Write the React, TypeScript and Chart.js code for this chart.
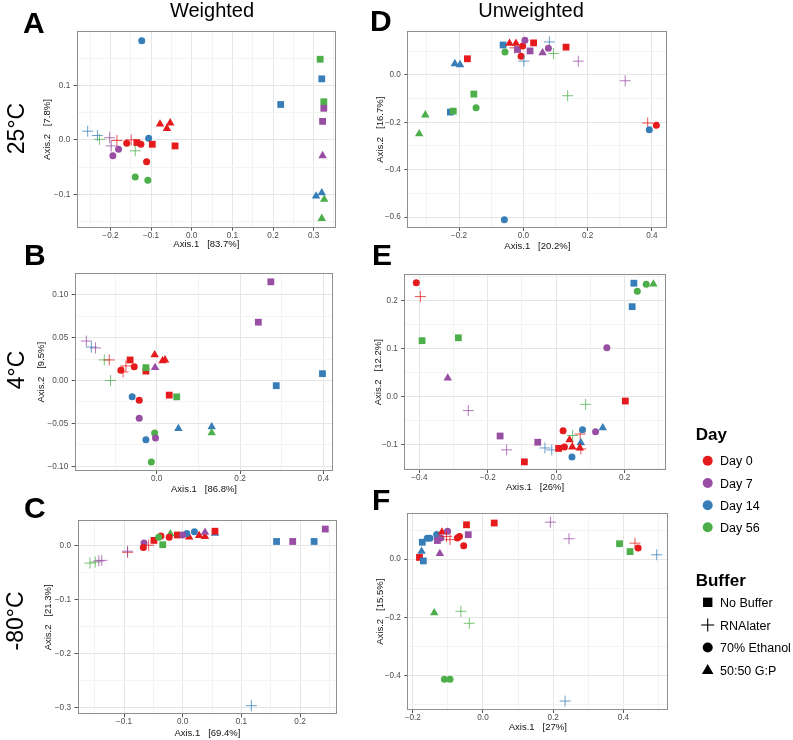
import React, { useEffect, useRef } from "react";
import { Chart, registerables } from "chart.js";

Chart.register(...registerables);

const FONT = '"Liberation Sans", Arial, Helvetica, sans-serif';

// ---------- legend / categories ----------
const dayLabels = ["Day 0", "Day 7", "Day 14", "Day 56"];
const dayColors = ["#E41A1C", "#984EA3", "#377EB8", "#4DAF4A"];
const crossColors = ["rgba(228,26,28,0.75)", "rgba(152,78,163,0.75)", "rgba(55,126,184,0.75)", "rgba(77,175,74,0.75)"];
const bufferLabels = ["No Buffer", "RNAlater", "70% Ethanol", "50:50 G:P"];
const bufferStyles = ["rect", "cross", "circle", "triangle"];
const bufferRadius = [4.8, 5.5, 3.5, 4.9];

const panelLetters = ["A", "B", "C", "D", "E", "F"];
const axis1Pct = ["83.7", "86.8", "69.4", "20.2", "26", "27"];
const axis2Pct = ["7.8", "9.5", "21.3", "16.7", "12.2", "15.5"];

// ---------- points: [Axis.1, Axis.2, day index, buffer index] ----------
type Pt = [number, number, number, number];

const panelA: Pt[] = [
  [-0.123, 0.182, 2, 2], [0.316, 0.148, 3, 0], [0.320, 0.112, 2, 0], [0.219, 0.065, 2, 0],
  [0.325, 0.070, 3, 0], [0.325, 0.058, 1, 0], [0.322, 0.034, 1, 0], [0.322, -0.029, 1, 3],
  [0.306, -0.103, 2, 3], [0.320, -0.097, 2, 3], [0.326, -0.109, 3, 3], [0.320, -0.144, 3, 3],
  [-0.078, 0.029, 0, 3], [-0.061, 0.021, 0, 3], [-0.053, 0.031, 0, 3], [-0.106, 0.003, 2, 2],
  [-0.135, -0.005, 0, 0], [-0.097, -0.008, 0, 0], [-0.041, -0.011, 0, 0], [-0.160, -0.006, 0, 2],
  [-0.125, -0.008, 0, 2], [-0.111, -0.040, 0, 2], [-0.139, -0.068, 3, 2], [-0.108, -0.074, 3, 2],
  [-0.194, -0.029, 1, 2], [-0.180, -0.017, 1, 2],
  [-0.256, 0.016, 2, 1], [-0.232, 0.008, 2, 1], [-0.227, 0.001, 3, 1], [-0.202, 0.004, 1, 1],
  [-0.198, -0.011, 1, 1], [-0.184, -0.001, 0, 1], [-0.149, 0.000, 0, 1], [-0.139, -0.020, 3, 1],
];

const panelB: Pt[] = [
  [0.274, 0.115, 1, 0], [0.244, 0.068, 1, 0], [0.398, 0.008, 2, 0], [0.287, -0.006, 2, 0],
  [-0.169, 0.046, 1, 1], [-0.157, 0.039, 2, 1], [-0.147, 0.038, 1, 1], [-0.126, 0.024, 3, 1],
  [-0.114, 0.024, 0, 1], [-0.074, 0.017, 0, 1], [-0.081, 0.010, 0, 1], [-0.111, 0.000, 3, 1],
  [-0.086, 0.012, 0, 2], [-0.054, 0.016, 0, 2], [-0.064, 0.024, 0, 0], [-0.026, 0.011, 0, 0],
  [0.030, -0.017, 0, 0], [-0.026, 0.015, 3, 0], [0.048, -0.019, 3, 0], [-0.005, 0.030, 0, 3],
  [0.014, 0.023, 0, 3], [0.020, 0.024, 0, 3], [-0.004, 0.015, 1, 3], [-0.059, -0.019, 2, 2],
  [-0.042, -0.023, 0, 2], [-0.042, -0.044, 1, 2], [-0.026, -0.069, 2, 2], [-0.005, -0.061, 3, 2],
  [-0.003, -0.067, 1, 2], [-0.013, -0.095, 3, 2], [0.052, -0.056, 2, 3], [0.132, -0.054, 2, 3],
  [0.132, -0.061, 3, 3],
];

const panelC: Pt[] = [
  [0.243, 0.031, 1, 0], [0.160, 0.008, 2, 0], [0.224, 0.008, 2, 0], [0.1875, 0.008, 1, 0],
  [0.117, -0.296, 2, 1], [0.055, 0.023, 2, 3], [0.055, 0.027, 0, 0], [0.038, 0.017, 0, 3],
  [0.028, 0.019, 0, 3], [0.011, 0.016, 0, 3], [0.038, 0.025, 1, 3], [0.020, 0.026, 2, 2],
  [0.007, 0.023, 2, 2], [-0.009, 0.020, 0, 0], [-0.049, 0.010, 0, 0], [0.000, 0.020, 1, 2],
  [-0.021, 0.022, 3, 3], [-0.023, 0.016, 0, 2], [-0.037, 0.018, 0, 2], [-0.041, 0.016, 3, 2],
  [-0.034, 0.002, 3, 0], [-0.066, 0.005, 1, 2], [-0.067, -0.003, 0, 2], [-0.058, 0.001, 0, 1],
  [-0.094, -0.012, 0, 1], [-0.094, -0.010, 1, 1], [-0.158, -0.032, 3, 1], [-0.149, -0.030, 3, 1],
  [-0.143, -0.028, 1, 1], [-0.138, -0.027, 1, 1],
];

const panelD: Pt[] = [
  [-0.063, 0.126, 2, 0], [-0.043, 0.133, 0, 3], [-0.023, 0.133, 0, 3], [-0.027, 0.114, 0, 1],
  [-0.018, 0.107, 1, 0], [-0.002, 0.122, 0, 2], [0.005, 0.146, 1, 2], [0.032, 0.135, 0, 0],
  [-0.007, 0.079, 0, 2], [0.021, 0.101, 1, 0], [0.002, 0.058, 2, 1], [0.081, 0.139, 2, 1],
  [0.078, 0.112, 1, 2], [0.060, 0.093, 1, 3], [0.094, 0.090, 3, 1], [0.133, 0.117, 0, 0],
  [-0.057, 0.097, 3, 2], [0.171, 0.058, 1, 1], [-0.174, 0.068, 0, 0], [-0.213, 0.047, 2, 3],
  [-0.197, 0.043, 2, 3], [-0.154, -0.081, 3, 0], [-0.147, -0.139, 3, 2], [-0.227, -0.157, 2, 0],
  [-0.218, -0.153, 3, 0], [-0.305, -0.169, 3, 3], [-0.324, -0.249, 3, 3], [0.138, -0.088, 3, 1],
  [0.317, -0.025, 1, 1], [0.387, -0.203, 0, 1], [0.392, -0.232, 2, 2], [0.414, -0.213, 0, 2],
  [-0.059, -0.611, 2, 2],
];

const panelE: Pt[] = [
  [-0.409, 0.238, 0, 2], [-0.397, 0.209, 0, 1], [-0.392, 0.117, 3, 0], [-0.286, 0.123, 3, 0],
  [-0.317, 0.039, 1, 3], [-0.257, -0.029, 1, 1], [-0.164, -0.082, 1, 0], [-0.145, -0.111, 1, 1],
  [-0.054, -0.095, 1, 0], [-0.093, -0.136, 0, 0], [-0.033, -0.107, 2, 1], [-0.013, -0.111, 2, 1],
  [0.007, -0.108, 0, 0], [0.020, -0.071, 0, 2], [0.024, -0.105, 0, 2], [0.039, -0.090, 0, 3],
  [0.048, -0.081, 3, 1], [0.047, -0.105, 0, 3], [0.046, -0.126, 2, 2], [0.070, -0.078, 0, 1],
  [0.077, -0.069, 2, 2], [0.072, -0.096, 2, 3], [0.069, -0.107, 0, 3], [0.072, -0.109, 0, 1],
  [0.086, -0.016, 3, 1], [0.115, -0.073, 1, 2], [0.136, -0.065, 2, 3], [0.148, 0.102, 1, 2],
  [0.202, -0.009, 0, 0], [0.227, 0.237, 2, 0], [0.263, 0.235, 3, 2], [0.284, 0.235, 3, 3],
  [0.237, 0.220, 3, 2], [0.222, 0.188, 2, 0],
];

const panelF: Pt[] = [
  [-0.181, 0.006, 0, 0], [-0.170, -0.006, 2, 0], [-0.175, 0.027, 2, 3], [-0.173, 0.058, 2, 0],
  [-0.159, 0.072, 2, 2], [-0.151, 0.072, 2, 2], [-0.132, 0.085, 2, 2], [-0.130, 0.064, 1, 0],
  [-0.120, 0.073, 1, 2], [-0.117, 0.093, 0, 3], [-0.101, 0.096, 1, 2], [-0.123, 0.019, 1, 3],
  [-0.104, 0.078, 0, 1], [-0.094, 0.067, 0, 1], [-0.073, 0.073, 0, 2], [-0.067, 0.078, 0, 2],
  [-0.055, 0.046, 0, 2], [-0.047, 0.118, 0, 0], [-0.042, 0.084, 1, 0], [0.032, 0.124, 0, 0],
  [0.192, 0.127, 1, 1], [0.245, 0.070, 1, 1], [0.389, 0.053, 3, 0], [0.419, 0.026, 3, 0],
  [0.433, 0.055, 0, 1], [0.442, 0.038, 0, 2], [0.495, 0.015, 2, 1], [-0.139, -0.184, 3, 3],
  [-0.063, -0.179, 3, 1], [-0.039, -0.220, 3, 1], [-0.110, -0.412, 3, 2], [-0.094, -0.412, 3, 2],
  [0.234, -0.487, 2, 1],
];

// ---------- tick positions (all grid lines) and labelled (major) ticks ----------
const aXTicks = [-0.25, -0.2, -0.15, -0.1, -0.05, 0, 0.05, 0.1, 0.15, 0.2, 0.25, 0.3, 0.35];
const aXLabels = [-0.2, -0.1, 0, 0.1, 0.2, 0.3];
const aYTicks = [-0.15, -0.1, -0.05, 0, 0.05, 0.1, 0.15];
const aYLabels = [-0.1, 0, 0.1];

const bXTicks = [-0.1, 0, 0.1, 0.2, 0.3, 0.4];
const bXLabels = [0, 0.2, 0.4];
const bYTicks = [-0.1, -0.075, -0.05, -0.025, 0, 0.025, 0.05, 0.075, 0.1];
const bYLabels = [-0.1, -0.05, 0, 0.05, 0.1];

const cXTicks = [-0.15, -0.1, -0.05, 0, 0.05, 0.1, 0.15, 0.2, 0.25];
const cXLabels = [-0.1, 0, 0.1, 0.2];
const cYTicks = [-0.3, -0.25, -0.2, -0.15, -0.1, -0.05, 0];
const cYLabels = [-0.3, -0.2, -0.1, 0];

const dXTicks = [-0.3, -0.2, -0.1, 0, 0.1, 0.2, 0.3, 0.4];
const dXLabels = [-0.2, 0, 0.2, 0.4];
const dYTicks = [-0.6, -0.5, -0.4, -0.3, -0.2, -0.1, 0, 0.1];
const dYLabels = [-0.6, -0.4, -0.2, 0];

const eXTicks = [-0.4, -0.3, -0.2, -0.1, 0, 0.1, 0.2, 0.3];
const eXLabels = [-0.4, -0.2, 0, 0.2];
const eYTicks = [-0.15, -0.1, -0.05, 0, 0.05, 0.1, 0.15, 0.2, 0.25];
const eYLabels = [-0.1, 0, 0.1, 0.2];

const fXTicks = [-0.2, -0.1, 0, 0.1, 0.2, 0.3, 0.4, 0.5];
const fXLabels = [-0.2, 0, 0.2, 0.4];
const fYTicks = [-0.5, -0.4, -0.3, -0.2, -0.1, 0, 0.1];
const fYLabels = [-0.4, -0.2, 0];

// ---------- axis ranges [xMin, xMax, yMin, yMax] ----------
const aRange = [-0.283, 0.355, -0.161, 0.199];
const bRange = [-0.197, 0.424, -0.1054, 0.1248];
const cRange = [-0.1793, 0.2635, -0.312, 0.047];
const dRange = [-0.361, 0.448, -0.646, 0.1833];
const eRange = [-0.444, 0.320, -0.153, 0.2553];
const fRange = [-0.2157, 0.528, -0.5176, 0.157];

interface PanelCfg {
  letter: string;
  data: Pt[];
  range: number[];
  xTicks: number[];
  xLabels: number[];
  yTicks: number[];
  yLabels: number[];
  xDec: number;
  yDec: number;
  xTitle: string;
  yTitle: string;
  // layout (page px): plot area and axis title centres
  L: number; T: number; R: number; B: number; yTitleX: number; xTitleY: number;
}

const mk = (i: number, data: Pt[], range: number[], xT: number[], xL: number[], yT: number[], yL: number[],
  xDec: number, yDec: number, L: number, T: number, R: number, B: number, yTitleX: number, xTitleY: number): PanelCfg => ({
  letter: panelLetters[i], data, range, xTicks: xT, xLabels: xL, yTicks: yT, yLabels: yL, xDec, yDec,
  xTitle: "Axis.1   [" + axis1Pct[i] + "%]", yTitle: "Axis.2   [" + axis2Pct[i] + "%]",
  L, T, R, B, yTitleX, xTitleY,
});

const PANELS: PanelCfg[] = [
  mk(0, panelA, aRange, aXTicks, aXLabels, aYTicks, aYLabels, 1, 1, 76.7, 29.3, 336, 227.7, 48, 244),
  mk(1, panelB, bRange, bXTicks, bXLabels, bYTicks, bYLabels, 1, 2, 74.7, 270.7, 333.3, 471, 41.5, 489),
  mk(2, panelC, cRange, cXTicks, cXLabels, cYTicks, cYLabels, 1, 1, 77.5, 518, 337.3, 714.3, 48.3, 733),
  mk(3, panelD, dRange, dXTicks, dXLabels, dYTicks, dYLabels, 1, 1, 407.3, 29, 667.3, 228, 380.7, 246),
  mk(4, panelE, eRange, eXTicks, eXLabels, eYTicks, eYLabels, 1, 1, 404.3, 271.7, 665.7, 470, 379, 487),
  mk(5, panelF, fRange, fXTicks, fXLabels, fYTicks, fYLabels, 1, 1, 407.3, 511, 668.3, 710, 381, 727),
];

const has = (arr: number[], v: number) => arr.some((a) => Math.abs(a - v) < 1e-9);
const fmt = (v: number, d: number) => (Math.abs(v) < 1e-9 ? 0 : v).toFixed(d).replace("-", "\u2212");

const TITLE_SIZE = 9.5;
const TICK_SIZE = 8.2;

function Panel({ cfg }: { cfg: PanelCfg }) {
  const ref = useRef<HTMLCanvasElement>(null);
  const half = (TITLE_SIZE * 1.2) / 2;
  const cl = Math.round(cfg.yTitleX - half);
  const ct = Math.round(cfg.T - 6);
  const cb = Math.round(cfg.xTitleY + half);
  const cr = Math.round(cfg.R + 12);
  const cw = cr - cl;
  const ch = cb - ct;

  useEffect(() => {
    const canvas = ref.current;
    if (!canvas) return;
    const yW = cfg.L - cl;
    const xH = cb - cfg.B;

    const frame = {
      id: "frame" + cfg.letter,
      afterDatasetsDraw(chart: any) {
        const { ctx, chartArea: a } = chart;
        const l = Math.round(a.left), t = Math.round(a.top), r = Math.round(a.right), b = Math.round(a.bottom);
        ctx.save();
        ctx.strokeStyle = "#8F8F8F";
        ctx.lineWidth = 1;
        ctx.strokeRect(l + 0.5, t + 0.5, r - l - 1, b - t - 1);
        ctx.restore();
      },
    };

    const axis = (isX: boolean) => {
      const ticksArr = isX ? cfg.xTicks : cfg.yTicks;
      const labs = isX ? cfg.xLabels : cfg.yLabels;
      const dec = isX ? cfg.xDec : cfg.yDec;
      return {
        type: "linear",
        position: isX ? "bottom" : "left",
        bounds: "data",
        min: isX ? cfg.range[0] : cfg.range[2],
        max: isX ? cfg.range[1] : cfg.range[3],
        afterBuildTicks: (s: any) => {
          s.ticks = ticksArr.map((v) => ({ value: v }));
        },
        afterFit: (s: any) => {
          if (isX) s.height = xH;
          else s.width = yW;
        },
        ticks: {
          autoSkip: false,
          maxRotation: 0,
          minRotation: 0,
          includeBounds: false,
          padding: isX ? 0 : 3.5,
          color: "#4D4D4D",
          font: { size: TICK_SIZE, family: FONT },
          callback: (v: any) => (has(labs, Number(v)) ? fmt(Number(v), dec) : ""),
        },
        grid: {
          color: (c: any) => (c.tick && has(labs, c.tick.value) ? "#E6E6E6" : "#F3F3F3"),
          lineWidth: 1,
          drawTicks: true,
          tickLength: 3,
          tickWidth: 1,
          tickColor: (c: any) => (c.tick && has(labs, c.tick.value) ? "#555555" : "rgba(0,0,0,0)"),
        },
        border: { display: false },
        title: {
          display: true,
          text: isX ? cfg.xTitle : cfg.yTitle,
          color: "#111111",
          font: { size: TITLE_SIZE, family: FONT },
          padding: 0,
        },
      };
    };

    const d = cfg.data;
    const chart = new Chart(canvas, {
      type: "scatter",
      data: {
        datasets: [
          {
            data: d.map((p) => ({ x: p[0], y: p[1] })),
            pointStyle: d.map((p) => bufferStyles[p[3]]),
            pointRadius: d.map((p) => bufferRadius[p[3]]),
            pointHoverRadius: d.map((p) => bufferRadius[p[3]]),
            pointBackgroundColor: d.map((p) => dayColors[p[2]]),
            pointBorderColor: d.map((p) => (p[3] === 1 ? crossColors[p[2]] : dayColors[p[2]])),
            pointBorderWidth: d.map((p) => (p[3] === 1 ? 1 : 0)),
            clip: false,
          } as any,
        ],
      },
      options: {
        responsive: false,
        animation: false,
        devicePixelRatio: 1,
        events: [],
        layout: {
          padding: { top: cfg.T - ct, right: cr - cfg.R, left: 0, bottom: 0 },
          autoPadding: false,
        } as any,
        plugins: { legend: { display: false }, tooltip: { enabled: false } },
        scales: { x: axis(true) as any, y: axis(false) as any },
      },
      plugins: [frame],
    });
    return () => chart.destroy();
  }, []);

  return (
    <canvas
      ref={ref}
      width={cw}
      height={ch}
      style={{ position: "absolute", left: cl, top: ct, width: cw, height: ch }}
    />
  );
}

// ---------- page annotation positions ----------
const letterPos = [
  [23, 32.7], [24, 265], [24, 517.7], [370, 30.5], [372, 265], [372, 509.5],
];
const rowLabels = ["25\u00B0C", "4\u00B0C", "-80\u00B0C"];
const rowLabelPos = [[24, 128.5], [24, 370], [23, 621]];
const colTitles = ["Weighted", "Unweighted"];
const colTitleX = [212, 531];
const dayLegendY = [460.7, 483, 505.3, 527.3];
const bufferLegendY = [602.3, 625, 647.5, 670];

function BufferMarker({ i, cx, cy }: { i: number; cx: number; cy: number }) {
  if (i === 0) return <rect x={cx - 4.7} y={cy - 4.7} width={9.4} height={9.4} fill="#000" />;
  if (i === 1)
    return (
      <g stroke="#000" strokeWidth={1.1}>
        <line x1={cx - 6.5} y1={cy} x2={cx + 6.5} y2={cy} />
        <line x1={cx} y1={cy - 6.5} x2={cx} y2={cy + 6.5} />
      </g>
    );
  if (i === 2) return <circle cx={cx} cy={cy} r={5} fill="#000" />;
  return <polygon points={`${cx},${cy - 6} ${cx + 5.8},${cy + 4} ${cx - 5.8},${cy + 4}`} fill="#000" />;
}

export default function App() {
  return (
    <div
      style={{
        position: "absolute",
        left: 0,
        top: 0,
        width: 793,
        height: 740,
        background: "#FFFFFF",
        overflow: "hidden",
      }}
    >
      {PANELS.map((p) => (
        <Panel key={p.letter} cfg={p} />
      ))}
      <svg
        width={793}
        height={740}
        style={{ position: "absolute", left: 0, top: 0, pointerEvents: "none" }}
        fontFamily={FONT}
      >
        {panelLetters.map((l, i) => (
          <text key={l} x={letterPos[i][0]} y={letterPos[i][1]} fontSize={30} fontWeight="bold" fill="#000">
            {l}
          </text>
        ))}
        {rowLabels.map((t, i) => (
          <text
            key={t}
            transform={`translate(${rowLabelPos[i][0]},${rowLabelPos[i][1]}) rotate(-90)`}
            textAnchor="middle"
            fontSize={23}
            fill="#000"
          >
            {t}
          </text>
        ))}
        {colTitles.map((t, i) => (
          <text key={t} x={colTitleX[i]} y={17} textAnchor="middle" fontSize={20} fill="#000">
            {t}
          </text>
        ))}
        <text x={695.7} y={439.5} fontSize={17} fontWeight="bold" fill="#000">
          Day
        </text>
        {dayLabels.map((t, i) => (
          <g key={t}>
            <circle cx={707.7} cy={dayLegendY[i]} r={5} fill={dayColors[i]} />
            <text x={720} y={dayLegendY[i] + 4.5} fontSize={12.5} fill="#000">
              {t}
            </text>
          </g>
        ))}
        <text x={695.7} y={586} fontSize={17} fontWeight="bold" fill="#000">
          Buffer
        </text>
        {bufferLabels.map((t, i) => (
          <g key={t}>
            <BufferMarker i={i} cx={707.7} cy={bufferLegendY[i]} />
            <text x={720} y={bufferLegendY[i] + 4.5} fontSize={12.5} fill="#000">
              {t}
            </text>
          </g>
        ))}
      </svg>
    </div>
  );
}
